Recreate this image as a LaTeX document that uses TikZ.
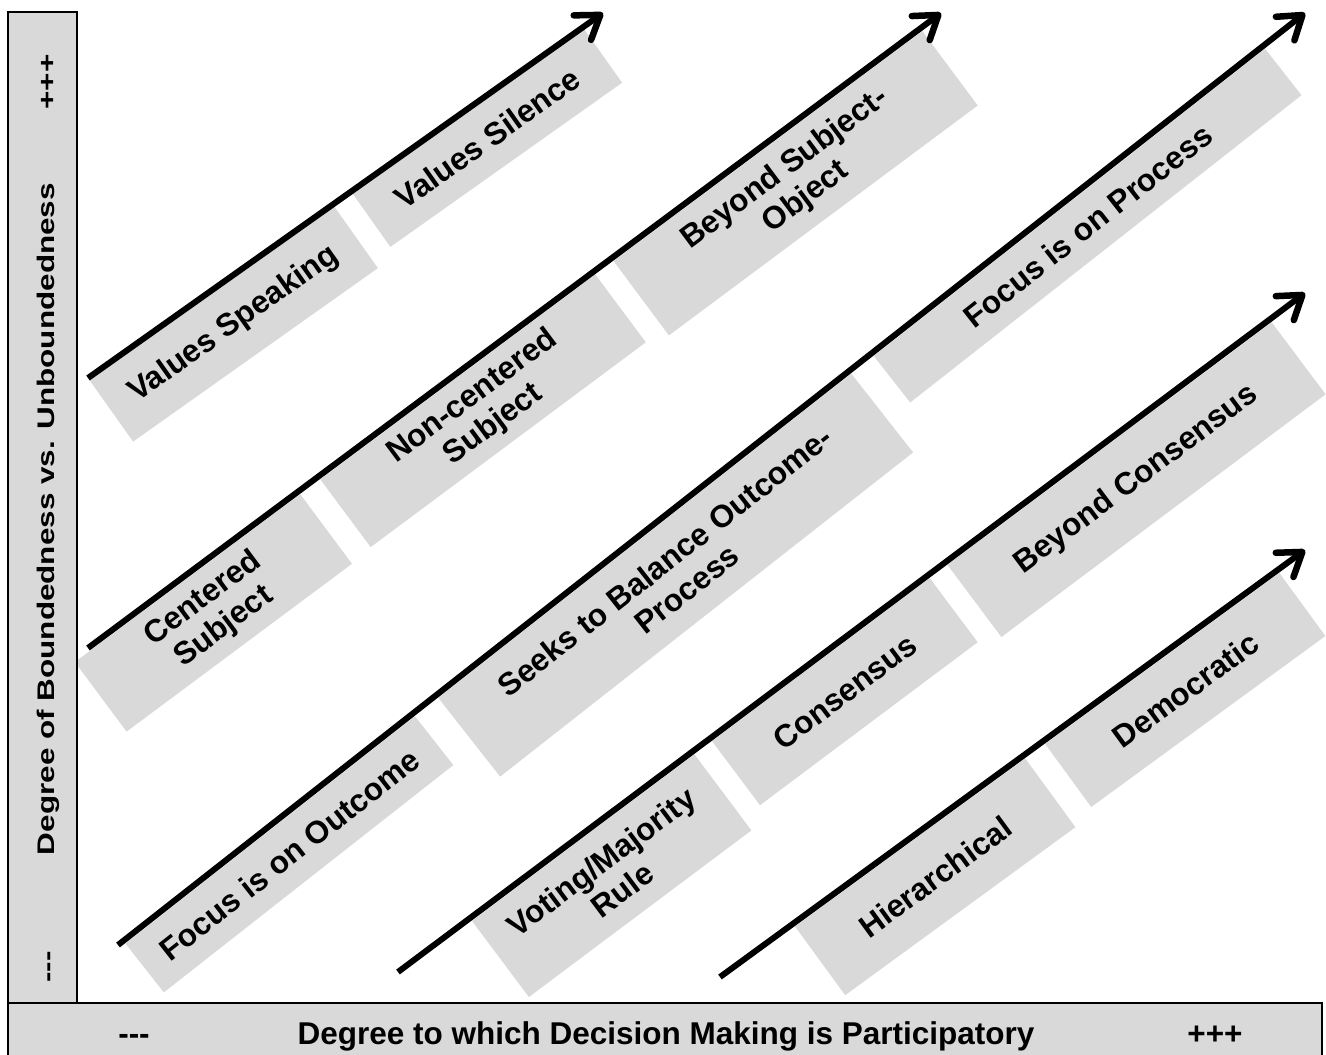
\documentclass[tikz,border=0pt]{standalone}
\usepackage{fontspec}
\usepackage{graphicx}
\setmainfont{Liberation Sans}
\usetikzlibrary{arrows.meta}
\definecolor{slabgray}{RGB}{217,217,217}
\tikzset{
  slabfill/.style={fill=slabgray},
  slabtext/.style={font=\fontsize{31.5}{35}\selectfont\bfseries, align=center, inner sep=0pt, text=black},
  axistext/.style={font=\fontsize{31.5}{35}\selectfont\bfseries, inner sep=0pt},
  sidetext/.style={font=\fontsize{24}{28}\selectfont\bfseries, inner sep=0pt, rotate=90, anchor=base},
  axisbar/.style={fill=slabgray, draw=black, line width=2.5pt},
  scalearrow/.style={line width=6pt, -{Straight Barb[length=22pt,width=30pt,line width=6.5pt,round]}},
}
% A grey slab given by its top-left corner, top-right corner and bottom-left corner,
% with its label centred and following the slab's orientation.
\newcommand\slab[8]{%
  \pgfmathsetmacro\sUx{#4-#2}\pgfmathsetmacro\sUy{#5-#3}%
  \pgfmathsetmacro\sVx{#6-#2}\pgfmathsetmacro\sVy{#7-#3}%
  \pgfmathsetmacro\sL{veclen(\sUx,\sUy)}\pgfmathsetmacro\sH{veclen(\sVx,\sVy)}%
  \pgfmathsetmacro\sA{(\sUx)/\sL}\pgfmathsetmacro\sB{0-(\sUy)/\sL}%
  \pgfmathsetmacro\sC{0-(\sVx)/\sH}\pgfmathsetmacro\sD{(\sVy)/\sH}%
  \pgfmathsetmacro\sCx{\sL/2}\pgfmathsetmacro\sCy{0-\sH/2}%
  \begin{scope}[shift={(#2,#3)},cm={\sA,\sB,\sC,\sD,(0,0)}]
    \fill[slabfill] (0pt,0pt) rectangle (\sL pt,-\sH pt);
    \node[slabtext,transform shape] (#1) at (\sCx pt,\sCy pt) {#8};
  \end{scope}}
\begin{document}
\begin{tikzpicture}[x=1pt,y=-1pt]
  \path[use as bounding box] (0,0) rectangle (1326,1055);

  % slabs, row by row, each lying just under its arrow
  \slab{vspeak}{89.7}{380.4}{334.5}{206.9}{133.1}{441.6}{Values Speaking}
  \slab{vsilence}{352.8}{193.9}{584.5}{29.7}{390.4}{246.9}{Values Silence}

  \slab{centered}{74.9}{662.1}{300.3}{494.3}{126.6}{731.6}{Centered\\Subject}
  \slab{noncentered}{320.3}{479.4}{595.4}{274.6}{370.7}{547.1}{Non-centered\\Subject}
  \slab{beyondso}{613.6}{261.1}{922.4}{31.2}{668.9}{335.4}{Beyond Subject-\\Object}

  \slab{outcome}{125.5}{943.6}{415}{716.3}{163.8}{992.4}{Focus is on Outcome}
  \slab{balance}{438.3}{697.9}{851.3}{373.7}{500.1}{776.6}{Seeks to Balance Outcome-\\Process}
  \slab{process}{873.8}{356.1}{1265.1}{48.8}{910.2}{402.5}{Focus is on Process}

  \slab{voting}{472}{921}{694.5}{754.4}{528.9}{997}{Voting/Majority\\Rule}
  \slab{consensus}{712.1}{741.2}{929.8}{578.2}{760}{805.2}{Consensus}
  \slab{beyondcons}{947.5}{565}{1271.7}{322.3}{1001.4}{637}{Beyond Consensus}

  \slab{hierarch}{795.1}{926.5}{1025.3}{758.5}{845.2}{995.2}{Hierarchical}
  \slab{democ}{1045.2}{744}{1279.4}{573}{1091.2}{807}{Democratic}

  % scale arrows
  \coordinate (s1) at (88,378);  \coordinate (e1) at (603,13);
  \coordinate (s2) at (88,648);  \coordinate (e2) at (941,13);
  \coordinate (s3) at (118,945); \coordinate (e3) at (1305,13);
  \coordinate (s4) at (398,972); \coordinate (e4) at (1305,293);
  \coordinate (s5) at (720,977); \coordinate (e5) at (1305,550);
  \foreach \k in {1,...,5} {\draw[scalearrow] (s\k) -- (e\k);}

  % axes
  \draw[axisbar] (8,12) rectangle (77,1003);
  \draw[axisbar] (8,1003) rectangle (1322,1075);

  \node[sidetext] (ylab) at (54,519) {\scalebox{1.31}[1]{Degree of Boundedness vs. Unboundedness}};
  \node[sidetext] (yhi) at (55,82) {\scalebox{1.31}[1]{+++}};
  \node[sidetext] (ylo) at (55,967) {\scalebox{1.31}[1]{-\kern0pt-\kern0pt-}};

  \node[axistext,anchor=base] (xlab) at (666,1044) {Degree to which Decision Making is Participatory};
  \node[axistext,anchor=base] (xlo) at (134,1044) {-\kern0pt-\kern0pt-};
  \node[axistext,anchor=base] (xhi) at (1215,1044) {+++};
\end{tikzpicture}
\end{document}
